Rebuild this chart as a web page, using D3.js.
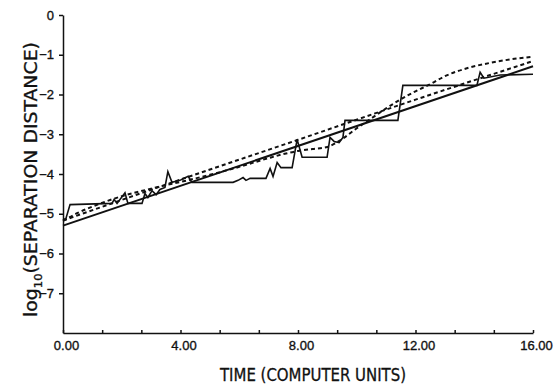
<!DOCTYPE html>
<html>
<head>
<meta charset="utf-8">
<script src="https://cdn.jsdelivr.net/npm/d3@7"></script>
<style>
  body { margin: 0; background: #fff; }
  svg { display: block; }
  .axis path, .axis line { stroke: #111; stroke-width: 1.5; }
  .axis text { font-family: "Liberation Sans", Arial, sans-serif; font-size: 13px; fill: #111; stroke: #111; stroke-width: 0.35; }
  .title { font-family: "DejaVu Sans Condensed", "Liberation Sans Narrow", sans-serif; font-size: 18px; fill: #111; stroke: #111; stroke-width: 0.3; }
</style>
</head>
<body>
<svg id="chart"></svg>
<script>
// Chart size, same as the window
var width = 555;
var height = 390;

// Observed separation (jagged solid line): [time, log10 distance]
var observed = [
  [0.00, -5.15], [0.10, -5.12], [0.24, -4.77], [1.67, -4.74], [1.74, -4.64], [1.84, -4.74],
  [2.11, -4.47], [2.21, -4.74], [2.69, -4.74], [2.79, -4.49], [2.89, -4.59], [3.03, -4.42],
  [3.17, -4.52], [3.30, -4.39], [3.47, -4.34], [3.57, -3.94], [3.71, -4.21], [3.98, -4.16],
  [4.26, -4.06], [4.39, -4.21], [5.79, -4.21], [5.96, -4.16], [6.13, -4.09], [6.23, -4.16],
  [6.37, -4.11], [6.91, -4.11], [7.05, -3.86], [7.15, -4.06], [7.29, -3.71], [7.42, -3.84],
  [7.80, -3.84], [7.97, -3.13], [8.14, -3.58], [8.99, -3.58], [9.09, -3.08], [9.23, -3.18],
  [9.40, -3.21], [9.53, -3.08], [9.60, -2.65], [11.40, -2.65], [11.57, -1.77], [14.09, -1.77],
  [14.20, -1.44], [14.33, -1.59], [14.88, -1.51], [16.00, -1.49]
];

// Straight fit (solid)
var fitLine = [[0, -5.30], [16, -1.29]];

// Near-straight dashed curve
var dashedA = [[0, -5.17], [4, -4.14], [8, -3.14], [12, -2.13], [16, -1.16]];

// Wavy dashed curve
var dashedB = [
  [0, -5.18], [0.5, -4.98], [1, -4.82], [1.5, -4.68], [2, -4.56], [2.5, -4.46], [3, -4.37],
  [3.5, -4.28], [4, -4.20], [5, -4.02], [6, -3.82], [7, -3.60], [7.5, -3.50], [8, -3.42],
  [8.5, -3.37], [9, -3.32], [9.5, -3.12], [10, -2.85], [10.5, -2.60], [11, -2.35], [11.5, -2.12],
  [12, -1.92], [12.5, -1.74], [13, -1.54], [13.75, -1.34], [14.5, -1.21], [15.3, -1.11], [16, -1.05]
];

var yTicks = [-7, -6, -5, -4, -3, -2, -1, 0];
var xLabels = [0, 4, 8, 12, 16];

var svg = d3.select("#chart").attr("width", width).attr("height", height);

var x = d3.scaleLinear().domain([0, 16]).range([63, 533]);
var y = d3.scaleLinear().domain([-8, 0]).range([333, 15]);

// Y axis, ticks outward, minus signs
svg.append("g")
    .attr("class", "axis")
    .attr("transform", "translate(" + x(0) + ",0)")
    .call(d3.axisLeft(y).tickValues(yTicks).tickSizeInner(4).tickSizeOuter(0).tickPadding(5)
        .tickFormat(function (d) { return d === 0 ? "0" : "\u2212" + Math.abs(d); }));

// X axis, small inward ticks every 4/3, labels every 4
var xTicks = d3.range(0, 16.01, 4 / 3);
var xAxis = svg.append("g")
    .attr("class", "axis")
    .attr("transform", "translate(0," + y(-8) + ")")
    .call(d3.axisBottom(x).tickValues(xTicks).tickSizeInner(-3).tickSizeOuter(0).tickPadding(8)
        .tickFormat(function (d) {
            var r = Math.round(d);
            return (Math.abs(d - r) < 1e-6 && xLabels.indexOf(r) >= 0) ? d3.format(".2f")(r) : "";
        }));
xAxis.selectAll("text").attr("dx", 3);

var line = d3.line().x(function (d) { return x(d[0]); }).y(function (d) { return y(d[1]); });
var smooth = d3.line().curve(d3.curveMonotoneX)
    .x(function (d) { return x(d[0]); }).y(function (d) { return y(d[1]); });

svg.append("path").datum(fitLine).attr("d", line)
    .attr("fill", "none").attr("stroke", "#111").attr("stroke-width", 2);

svg.append("path").datum(dashedA).attr("d", smooth)
    .attr("fill", "none").attr("stroke", "#111").attr("stroke-width", 2)
    .attr("stroke-dasharray", "4,3");

svg.append("path").datum(dashedB).attr("d", smooth)
    .attr("fill", "none").attr("stroke", "#111").attr("stroke-width", 2)
    .attr("stroke-dasharray", "4,3");

svg.append("path").datum(observed).attr("d", line)
    .attr("fill", "none").attr("stroke", "#111").attr("stroke-width", 1.6)
    .attr("stroke-linejoin", "miter");

// Axis titles
svg.append("text")
    .attr("class", "title")
    .attr("x", 220).attr("y", 381)
    .attr("textLength", 186).attr("lengthAdjust", "spacingAndGlyphs")
    .text("TIME (COMPUTER UNITS)");

var yt = svg.append("text")
    .attr("class", "title")
    .attr("transform", "translate(37,317) rotate(-90)")
    .attr("textLength", 275).attr("lengthAdjust", "spacingAndGlyphs");
yt.append("tspan").text("log");
yt.append("tspan").attr("dy", 5).style("font-size", "11px").text("10");
yt.append("tspan").attr("dy", -5).text("(SEPARATION DISTANCE)");
</script>
</body>
</html>
